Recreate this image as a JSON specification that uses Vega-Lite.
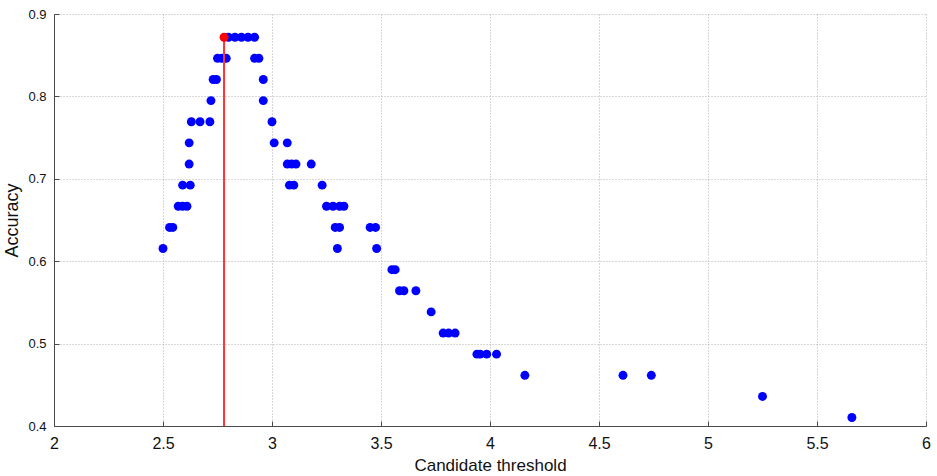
{
  "$schema": "https://vega.github.io/schema/vega-lite/v6.json",
  "width": 872,
  "height": 412,
  "autosize": "none",
  "padding": {"left": 54, "top": 14, "right": 11, "bottom": 50},
  "background": "white",
  "config": {
    "view": {"stroke": null},
    "font": "Liberation Sans",
    "axis": {
      "domainColor": "#4a4a4a",
      "domainWidth": 1,
      "tickColor": "#4a4a4a",
      "tickSize": -5,
      "gridColor": "#b0b0b0",
      "gridDash": [1, 2],
      "gridWidth": 1,
      "labelColor": "#111111",
      "titleColor": "#111111",
      "titleFontWeight": "normal",
      "labelFont": "Liberation Sans",
      "titleFont": "Liberation Sans"
    }
  },
  "data": {
    "values": [
      {"threshold": 2.80, "accuracy": 0.8718, "kind": "candidate"},
      {"threshold": 2.83, "accuracy": 0.8718, "kind": "candidate"},
      {"threshold": 2.86, "accuracy": 0.8718, "kind": "candidate"},
      {"threshold": 2.89, "accuracy": 0.8718, "kind": "candidate"},
      {"threshold": 2.92, "accuracy": 0.8718, "kind": "candidate"},
      {"threshold": 2.75, "accuracy": 0.8462, "kind": "candidate"},
      {"threshold": 2.77, "accuracy": 0.8462, "kind": "candidate"},
      {"threshold": 2.79, "accuracy": 0.8462, "kind": "candidate"},
      {"threshold": 2.92, "accuracy": 0.8462, "kind": "candidate"},
      {"threshold": 2.94, "accuracy": 0.8462, "kind": "candidate"},
      {"threshold": 2.73, "accuracy": 0.8205, "kind": "candidate"},
      {"threshold": 2.745, "accuracy": 0.8205, "kind": "candidate"},
      {"threshold": 2.96, "accuracy": 0.8205, "kind": "candidate"},
      {"threshold": 2.72, "accuracy": 0.7949, "kind": "candidate"},
      {"threshold": 2.96, "accuracy": 0.7949, "kind": "candidate"},
      {"threshold": 2.63, "accuracy": 0.7692, "kind": "candidate"},
      {"threshold": 2.67, "accuracy": 0.7692, "kind": "candidate"},
      {"threshold": 2.715, "accuracy": 0.7692, "kind": "candidate"},
      {"threshold": 3.00, "accuracy": 0.7692, "kind": "candidate"},
      {"threshold": 2.62, "accuracy": 0.7436, "kind": "candidate"},
      {"threshold": 3.01, "accuracy": 0.7436, "kind": "candidate"},
      {"threshold": 3.07, "accuracy": 0.7436, "kind": "candidate"},
      {"threshold": 2.62, "accuracy": 0.7179, "kind": "candidate"},
      {"threshold": 3.07, "accuracy": 0.7179, "kind": "candidate"},
      {"threshold": 3.09, "accuracy": 0.7179, "kind": "candidate"},
      {"threshold": 3.11, "accuracy": 0.7179, "kind": "candidate"},
      {"threshold": 3.18, "accuracy": 0.7179, "kind": "candidate"},
      {"threshold": 2.59, "accuracy": 0.6923, "kind": "candidate"},
      {"threshold": 2.625, "accuracy": 0.6923, "kind": "candidate"},
      {"threshold": 3.08, "accuracy": 0.6923, "kind": "candidate"},
      {"threshold": 3.10, "accuracy": 0.6923, "kind": "candidate"},
      {"threshold": 3.23, "accuracy": 0.6923, "kind": "candidate"},
      {"threshold": 2.57, "accuracy": 0.6667, "kind": "candidate"},
      {"threshold": 2.59, "accuracy": 0.6667, "kind": "candidate"},
      {"threshold": 2.61, "accuracy": 0.6667, "kind": "candidate"},
      {"threshold": 3.25, "accuracy": 0.6667, "kind": "candidate"},
      {"threshold": 3.28, "accuracy": 0.6667, "kind": "candidate"},
      {"threshold": 3.31, "accuracy": 0.6667, "kind": "candidate"},
      {"threshold": 3.33, "accuracy": 0.6667, "kind": "candidate"},
      {"threshold": 2.53, "accuracy": 0.6410, "kind": "candidate"},
      {"threshold": 2.545, "accuracy": 0.6410, "kind": "candidate"},
      {"threshold": 3.29, "accuracy": 0.6410, "kind": "candidate"},
      {"threshold": 3.31, "accuracy": 0.6410, "kind": "candidate"},
      {"threshold": 3.45, "accuracy": 0.6410, "kind": "candidate"},
      {"threshold": 3.475, "accuracy": 0.6410, "kind": "candidate"},
      {"threshold": 2.50, "accuracy": 0.6154, "kind": "candidate"},
      {"threshold": 3.30, "accuracy": 0.6154, "kind": "candidate"},
      {"threshold": 3.48, "accuracy": 0.6154, "kind": "candidate"},
      {"threshold": 3.55, "accuracy": 0.5897, "kind": "candidate"},
      {"threshold": 3.565, "accuracy": 0.5897, "kind": "candidate"},
      {"threshold": 3.585, "accuracy": 0.5641, "kind": "candidate"},
      {"threshold": 3.605, "accuracy": 0.5641, "kind": "candidate"},
      {"threshold": 3.66, "accuracy": 0.5641, "kind": "candidate"},
      {"threshold": 3.73, "accuracy": 0.5385, "kind": "candidate"},
      {"threshold": 3.785, "accuracy": 0.5128, "kind": "candidate"},
      {"threshold": 3.81, "accuracy": 0.5128, "kind": "candidate"},
      {"threshold": 3.84, "accuracy": 0.5128, "kind": "candidate"},
      {"threshold": 3.94, "accuracy": 0.4872, "kind": "candidate"},
      {"threshold": 3.955, "accuracy": 0.4872, "kind": "candidate"},
      {"threshold": 3.985, "accuracy": 0.4872, "kind": "candidate"},
      {"threshold": 4.03, "accuracy": 0.4872, "kind": "candidate"},
      {"threshold": 4.16, "accuracy": 0.4615, "kind": "candidate"},
      {"threshold": 4.61, "accuracy": 0.4615, "kind": "candidate"},
      {"threshold": 4.74, "accuracy": 0.4615, "kind": "candidate"},
      {"threshold": 5.25, "accuracy": 0.4359, "kind": "candidate"},
      {"threshold": 5.66, "accuracy": 0.4103, "kind": "candidate"},
      {"threshold": 2.78, "accuracy": 0.8718, "kind": "best"}
    ]
  },
  "encoding": {
    "x": {
      "field": "threshold",
      "type": "quantitative",
      "scale": {"domain": [2, 6], "nice": false, "zero": false},
      "axis": {
        "title": "Candidate threshold",
        "values": [2, 2.5, 3, 3.5, 4, 4.5, 5, 5.5, 6],
        "format": "~g",
        "labelFontSize": 16,
        "titleFontSize": 17,
        "labelPadding": 14,
        "titlePadding": 6,
        "labelFlush": false,
        "grid": true
      }
    },
    "y": {
      "field": "accuracy",
      "type": "quantitative",
      "scale": {"domain": [0.4, 0.9], "nice": false, "zero": false},
      "axis": {
        "title": "Accuracy",
        "values": [0.4, 0.5, 0.6, 0.7, 0.8, 0.9],
        "format": ".1f",
        "labelFontSize": 13,
        "titleFontSize": 18,
        "labelPadding": 13,
        "titlePadding": 6,
        "labelFlush": false,
        "grid": true
      }
    }
  },
  "layer": [
    {
      "transform": [{"filter": "datum.kind === 'candidate'"}],
      "mark": {"type": "circle", "size": 80, "color": "#0000ff", "opacity": 1}
    },
    {
      "transform": [{"filter": "datum.kind === 'best'"}],
      "mark": {"type": "rule", "color": "#ff3333", "strokeWidth": 2},
      "encoding": {"y2": {"datum": 0.4}}
    },
    {
      "transform": [{"filter": "datum.kind === 'best'"}],
      "mark": {"type": "circle", "size": 80, "color": "#ff0000", "opacity": 1}
    }
  ]
}
